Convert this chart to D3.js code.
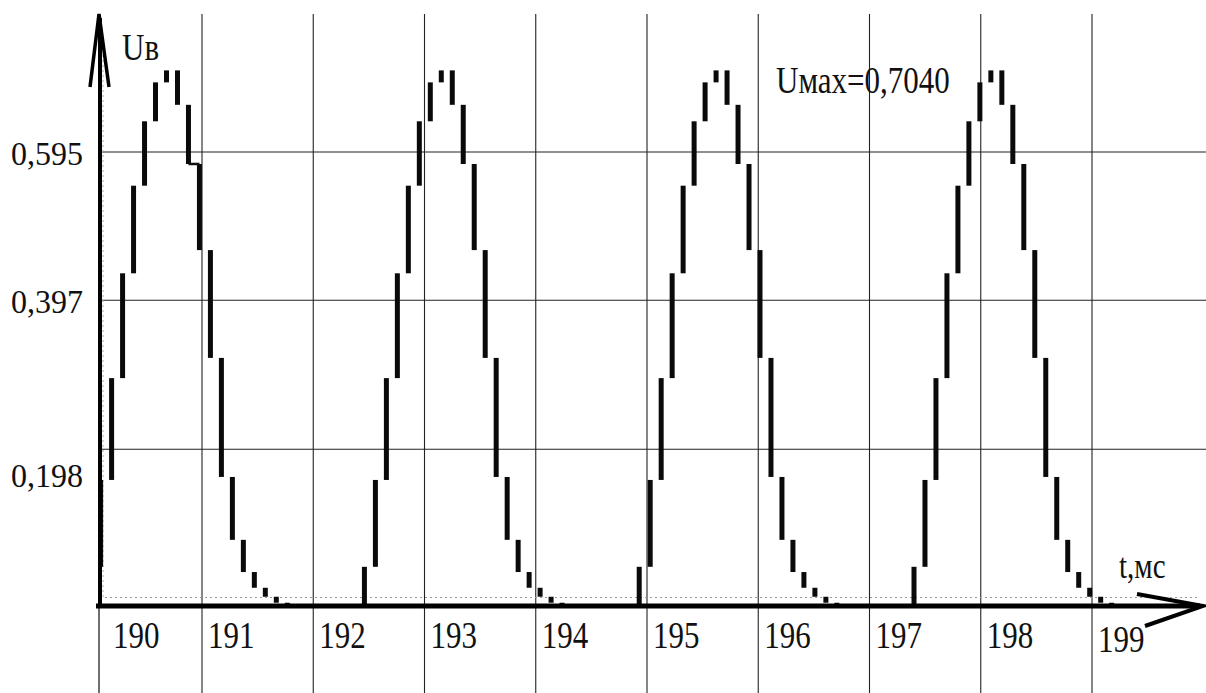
<!DOCTYPE html>
<html>
<head>
<meta charset="utf-8">
<script src="https://cdn.jsdelivr.net/npm/d3@7"></script>
<style>
  html, body { margin: 0; padding: 0; background: #fff; }
  svg { display: block; }
  text { font-family: "Liberation Serif", "Times New Roman", serif; fill: #111; }
</style>
</head>
<body>
<svg id="chart" width="1206" height="693"></svg>
<script>
// Output voltage of the stepped converter, t = 190…200 ms
const xTicks = [190, 191, 192, 193, 194, 195, 196, 197, 198, 199];
const yTicks = [0.198, 0.397, 0.595];
const yTickLabels = ["0,198", "0,397", "0,595"];

// start time of each pulse (ms) and the sampling step (ms)
const pulseStarts = [189.99, 192.46, 194.93, 197.40];
const sampleStep = 0.0987;

// level (V) held after each step of one pulse
const pulseLevels = [0.041, 0.157, 0.293, 0.433, 0.550, 0.636, 0.688, 0.704,
                     0.658, 0.579, 0.464, 0.320, 0.161, 0.077, 0.034, 0.013,
                     0.001, -0.007, -0.011];
const offLevel = -0.011;
const uMax = 0.704;

// steps whose horizontal hold is drawn too: [pulse index, step index]
const heldSteps = [[0, 9]];

const svg = d3.select("#chart");
const W = 1206, H = 693;
const axisX = 100, axisY = 606;

const x = d3.scaleLinear().domain([190, 200]).range([90.75, 1203.25]);
const y = d3.scaleLinear().domain([0, 0.595]).range([597.5, 152]);

// vertical grid
svg.append("g").selectAll("line")
  .data(xTicks.filter(t => t > 190))
  .join("line")
  .attr("x1", d => x(d)).attr("x2", d => x(d))
  .attr("y1", 14).attr("y2", H)
  .attr("stroke", "#222").attr("stroke-width", 1.1);

// horizontal grid
svg.append("g").selectAll("line")
  .data(yTicks)
  .join("line")
  .attr("x1", axisX).attr("x2", W)
  .attr("y1", d => y(d)).attr("y2", d => y(d))
  .attr("stroke", "#222").attr("stroke-width", 1.1);

// zero level and t-origin, dotted
svg.append("line")
  .attr("x1", axisX).attr("x2", 1200)
  .attr("y1", y(0)).attr("y2", y(0))
  .attr("stroke", "#999").attr("stroke-width", 1.2)
  .attr("stroke-dasharray", "2,3");
svg.append("line")
  .attr("x1", axisX + 3).attr("x2", axisX + 3)
  .attr("y1", 40).attr("y2", y(0))
  .attr("stroke", "#aaa").attr("stroke-width", 1)
  .attr("stroke-dasharray", "2,3");

// staircase: each step drawn as a thick riser
svg.append("clipPath").attr("id", "plotClip")
  .append("rect").attr("x", axisX - 3).attr("y", 0).attr("width", W).attr("height", H);

const risers = [];
const holds = [];
pulseStarts.forEach((t0, p) => {
  pulseLevels.forEach((lv, k) => {
    const prev = k === 0 ? offLevel : pulseLevels[k - 1];
    const t = t0 + k * sampleStep;
    risers.push({ t, from: prev, to: lv });
    if (heldSteps.some(h => h[0] === p && h[1] === k)) {
      holds.push({ t1: t, t2: t + sampleStep, level: lv });
    }
  });
});

const plot = svg.append("g").attr("clip-path", "url(#plotClip)");
plot.selectAll("line.riser")
  .data(risers)
  .join("line")
  .attr("class", "riser")
  .attr("x1", d => x(d.t)).attr("x2", d => x(d.t))
  .attr("y1", d => y(d.from)).attr("y2", d => y(d.to))
  .attr("stroke", "#0a0a0a").attr("stroke-width", 5)
  .attr("stroke-linecap", "butt");

plot.selectAll("line.hold")
  .data(holds)
  .join("line")
  .attr("class", "hold")
  .attr("x1", d => x(d.t1)).attr("x2", d => x(d.t2))
  .attr("y1", d => y(d.level)).attr("y2", d => y(d.level))
  .attr("stroke", "#111").attr("stroke-width", 2.5);

// axes with arrows
svg.append("line")
  .attr("x1", axisX).attr("x2", axisX)
  .attr("y1", 18).attr("y2", axisY)
  .attr("stroke", "#000").attr("stroke-width", 4);
svg.append("line")
  .attr("x1", axisX - 1).attr("x2", axisX - 1)
  .attr("y1", axisY).attr("y2", H)
  .attr("stroke", "#222").attr("stroke-width", 1.3);
svg.append("path")
  .attr("d", `M${axisX - 10},87 L${axisX - 1},14 L${axisX + 9},87`)
  .attr("fill", "none").attr("stroke", "#000").attr("stroke-width", 3.5)
  .attr("stroke-linejoin", "miter");

svg.append("line")
  .attr("x1", axisX - 4).attr("x2", 1200)
  .attr("y1", axisY).attr("y2", axisY)
  .attr("stroke", "#000").attr("stroke-width", 5);
svg.append("path")
  .attr("d", `M1137,594 L1203,606 L1145,626`)
  .attr("fill", "none").attr("stroke", "#000").attr("stroke-width", 4);

// tick labels
svg.append("g").selectAll("text")
  .data(yTicks)
  .join("text")
  .attr("transform", d => `translate(83,${y(d) + (d === yTicks[0] ? 38 : 13)}) scale(1,1.08)`)
  .attr("text-anchor", "end")
  .style("font-size", "32px")
  .text((d, i) => yTickLabels[i]);

svg.append("g").selectAll("text")
  .data(xTicks)
  .join("text")
  .attr("transform", d => `translate(${(d === xTicks[0] ? axisX + 13 : x(d) + 6)},${d === 199 ? 652 : 648}) scale(1,1.25)`)
  .attr("text-anchor", "start")
  .style("font-size", "31px")
  .text(d => d);

// axis names and the peak value
svg.append("text")
  .attr("transform", "translate(122,60) scale(1,1.25)")
  .style("font-size", "31px")
  .text("Uв");
svg.append("text")
  .attr("transform", "translate(1119,578) scale(1,1.25)")
  .style("font-size", "29px")
  .text("t,мс");
svg.append("text")
  .attr("transform", "translate(776,93) scale(1,1.25)")
  .style("font-size", "31px")
  .text("Uмах=" + d3.format(".4f")(uMax).replace(".", ","));
</script>
</body>
</html>
